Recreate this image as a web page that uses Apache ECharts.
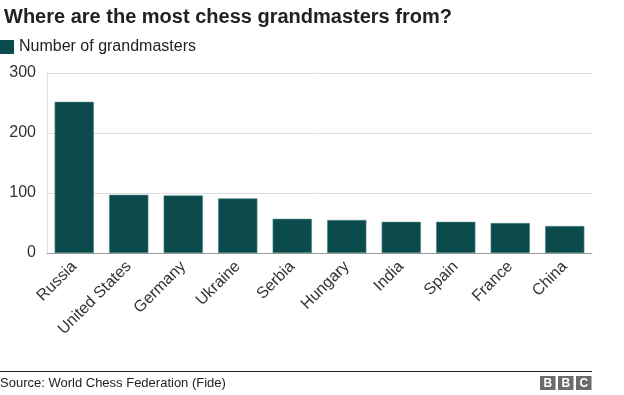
<!DOCTYPE html>
<html>
<head>
<meta charset="utf-8">
<script src="https://cdn.jsdelivr.net/npm/echarts@6/dist/echarts.min.js"></script>
<style>html,body{margin:0;padding:0;background:#fff;}#c{width:624px;height:395px;}</style>
</head>
<body>
<div id="c"></div>
<script>
var categories = ['Russia', 'United States', 'Germany', 'Ukraine', 'Serbia', 'Hungary', 'India', 'Spain', 'France', 'China'];
var grandmasters = [252, 97, 96, 91, 57, 55, 52, 52, 50, 45];
var yTicks = [0, 100, 200, 300];
var seriesName = 'Number of grandmasters';

var chart = echarts.init(document.getElementById('c'), null, {renderer: 'canvas'});
var FONT = '"Liberation Sans", Arial, Helvetica, sans-serif';
var barColor = '#0b4b4c';
var logoBoxes = [['B', 540], ['B', 558], ['C', 576]];
var graphics = [
  {type: 'line', shape: {x1: 0, y1: 371.5, x2: 592, y2: 371.5}, style: {stroke: '#222', lineWidth: 1}},
  {type: 'text', left: 0, top: 377, style: {text: 'Source: World Chess Federation (Fide)', font: '13px ' + FONT, fill: '#222'}}
];
logoBoxes.forEach(function (b) {
  graphics.push({type: 'rect', shape: {x: b[1], y: 376, width: 15.5, height: 14}, style: {fill: '#6b6b6b'}});
  graphics.push({type: 'text', x: b[1] + 7.75, y: 383.5, style: {text: b[0], font: 'bold 12px ' + FONT, fill: '#fff', align: 'center', verticalAlign: 'middle'}});
});

chart.setOption({
  animation: false,
  title: {
    text: 'Where are the most chess grandmasters from?',
    left: -1, top: 2,
    textStyle: {fontFamily: FONT, fontSize: 20, fontWeight: 'bold', color: '#222'}
  },
  legend: {
    data: [seriesName],
    left: 0, top: 39, padding: 0,
    itemWidth: 14, itemHeight: 14,
    icon: 'rect',
    itemStyle: {borderWidth: 0},
    textStyle: {fontFamily: FONT, fontSize: 16, color: '#222'}
  },
  grid: {left: 47, right: 32, top: 73, bottom: 142, containLabel: false},
  xAxis: {
    type: 'category',
    data: categories,
    axisLine: {show: true, lineStyle: {color: '#999', width: 1}},
    axisTick: {show: false},
    axisLabel: {
      rotate: 45, interval: 0, margin: 11,
      fontFamily: FONT, fontSize: 16, color: '#333'
    }
  },
  yAxis: {
    type: 'value',
    min: 0, max: 300, interval: 100,
    axisLine: {show: true, lineStyle: {color: '#e0e0e0'}},
    axisTick: {show: false},
    splitLine: {lineStyle: {color: '#dedede'}},
    axisLabel: {
      margin: 11, fontFamily: FONT, fontSize: 16, color: '#333',
      formatter: function (v) { return yTicks.indexOf(v) >= 0 ? String(v) : ''; }
    }
  },
  series: [{
    name: seriesName,
    type: 'bar',
    data: grandmasters,
    barCategoryGap: '28%',
    itemStyle: {color: barColor, borderColor: '#4f8a8a', borderWidth: 0.6}
  }],
  graphic: graphics
});
</script>
</body>
</html>
